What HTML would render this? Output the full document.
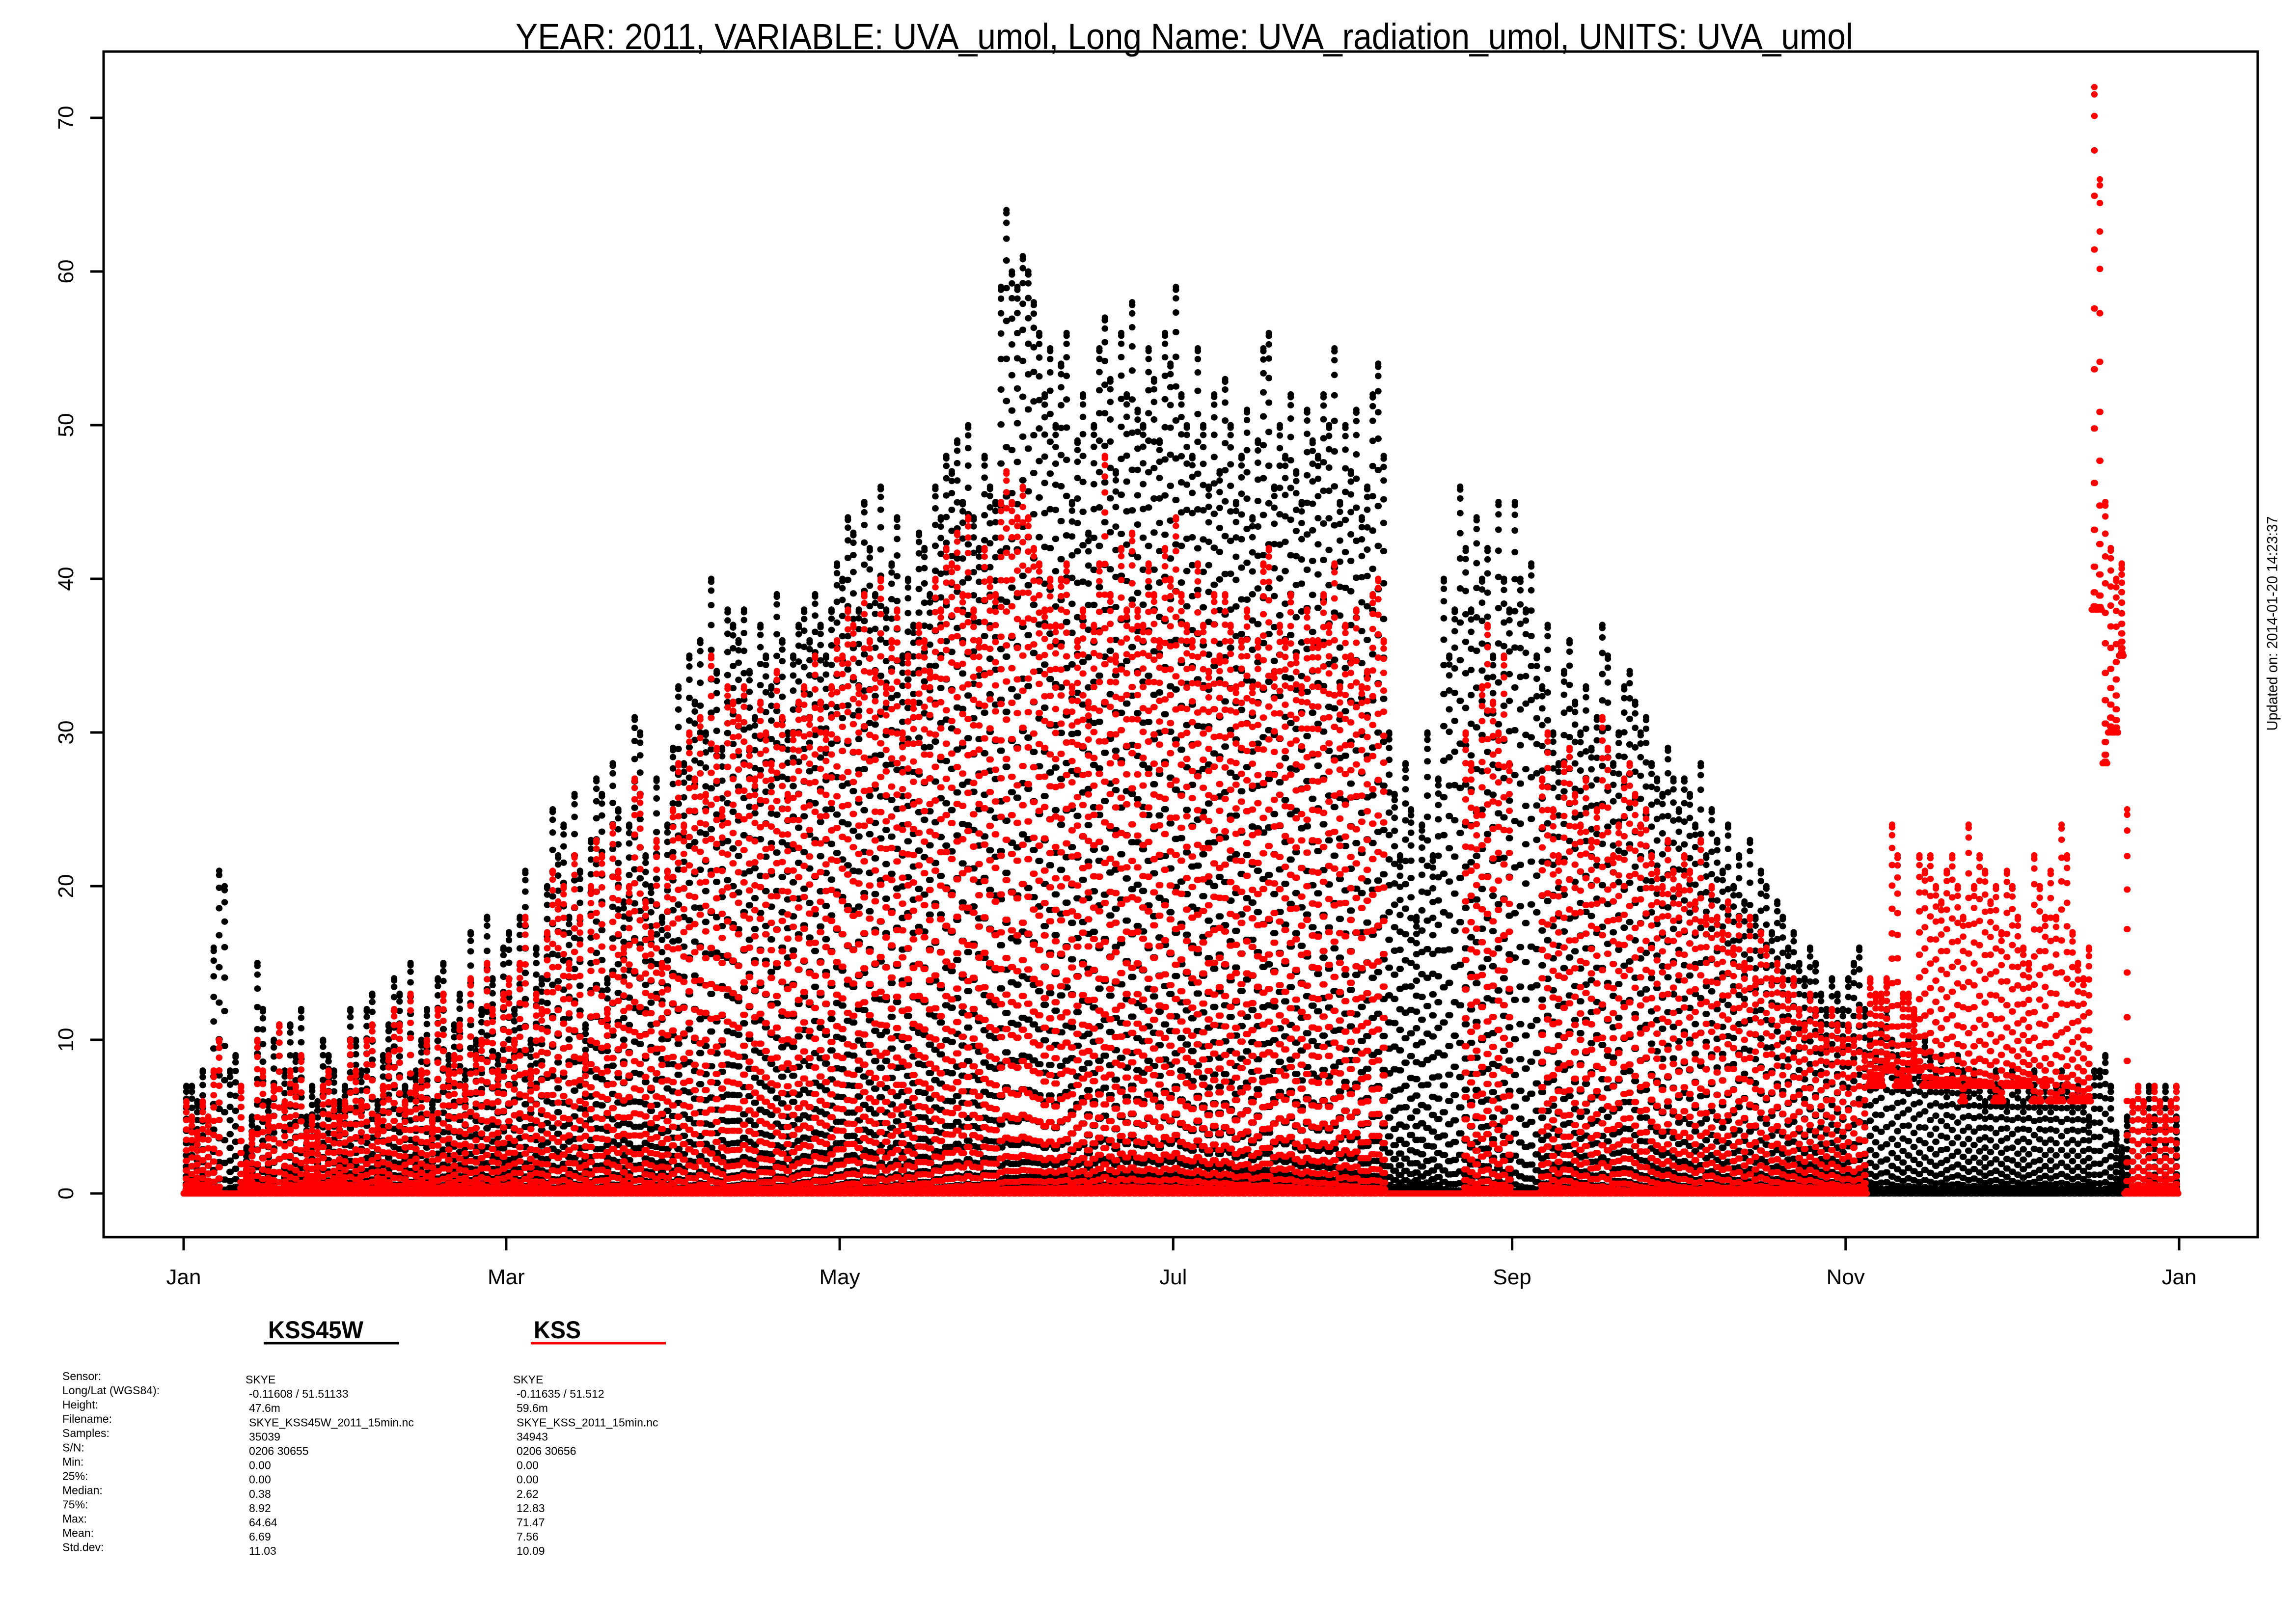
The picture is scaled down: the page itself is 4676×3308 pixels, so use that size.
<!DOCTYPE html>
<html><head><meta charset="utf-8">
<style>
html,body{margin:0;padding:0;background:#fff;}
svg{display:block;font-family:"Liberation Sans",Arial,sans-serif;}
</style></head>
<body>
<svg id="chart" width="4676" height="3308" viewBox="0 0 4676 3308" xmlns="http://www.w3.org/2000/svg">
<rect width="4676" height="3308" fill="#fff"/>
<text x="2412" y="100" font-size="74" text-anchor="middle" textLength="2724" lengthAdjust="spacingAndGlyphs">YEAR: 2011, VARIABLE: UVA_umol, Long Name: UVA_radiation_umol, UNITS: UVA_umol</text>
<g id="marks"></g>
<rect x="211" y="105" width="4387" height="2415" fill="none" stroke="#000" stroke-width="5"/>
<g id="axes"></g>
<text transform="translate(4638,1270) rotate(-90)" font-size="31" text-anchor="middle" textLength="437" lengthAdjust="spacingAndGlyphs">Updated on: 2014-01-20 14:23:37</text>
<g>
<text x="546" y="2726" font-size="50" font-weight="bold" textLength="194" lengthAdjust="spacingAndGlyphs">KSS45W</text>
<line x1="537" y1="2736" x2="813" y2="2736" stroke="#000" stroke-width="5"/>
<text x="1087" y="2726" font-size="50" font-weight="bold" textLength="96" lengthAdjust="spacingAndGlyphs">KSS</text>
<line x1="1081" y1="2736" x2="1356" y2="2736" stroke="#f00" stroke-width="5"/>
</g>
<g id="table" font-size="23"></g>
</svg>
<script>
// ---- data ----
const xTickLabels = ["Jan","Mar","May","Jul","Sep","Nov","Jan"];
const xTickDays = [0,59,120,181,243,304,365];
const yTicks = [0,10,20,30,40,50,60,70];
// daily max (umol) for KSS45W (black)
const blackMax = [
7,7,6,8,5,16,21,20,8,9,7,3,5,15,12,6,10,11,8,11,9,12,5,7,6,10,9,8,6,7,12,
10,8,12,13,6,9,11,14,13,7,15,8,10,12,6,14,15,9,11,13,8,17,10,12,18,14,9,16,
17,12,18,21,10,16,14,20,25,22,24,18,26,21,11,23,27,26,14,28,25,19,24,31,30,22,20,27,18,24,29,
33,28,35,32,36,30,40,34,29,38,37,36,38,34,31,37,35,33,39,36,30,35,37,38,36,39,37,35,38,41,
40,44,43,38,45,42,39,46,38,41,44,35,40,37,43,42,39,46,44,48,47,49,45,50,44,42,48,46,45,59,64,
60,59,61,60,58,56,52,55,50,54,56,45,49,52,43,50,55,57,53,47,56,52,58,51,50,55,53,49,56,54,
59,52,50,48,55,50,46,52,47,53,50,45,48,51,44,49,55,56,46,50,48,52,47,45,51,49,48,52,50,55,45,
50,47,51,44,46,52,54,48,30,26,22,28,25,18,24,30,22,27,40,35,38,46,42,38,44,40,42,35,45,40,38,
45,40,38,41,35,33,37,30,28,34,36,32,30,33,29,31,37,35,28,30,33,34,32,30,31,28,27,26,29,27,
25,27,26,24,28,22,25,23,21,24,20,22,19,23,18,21,20,17,19,18,16,17,15,14,16,15,13,12,14,13,12,
14,15,16,12,10,9,11,12,10,9,8,10,9,8,10,9,8,9,7,8,9,8,7,8,7,6,7,8,7,6,
8,7,6,7,8,6,7,6,7,8,7,6,7,6,5,8,8,9,7,4,3,5,6,7,6,7,5,6,7,6,5];
// daily max for KSS (red)
const redMax = [
6,5,4,6,5,8,10,0,0,0,7,2,4,10,8,5,7,11,6,8,7,9,4,5,4,7,8,6,5,6,10,
8,6,10,11,5,7,9,12,11,6,13,7,8,10,5,12,13,8,9,11,7,14,9,10,15,12,8,13,
14,10,15,18,8,13,12,17,21,19,20,15,22,18,9,20,23,22,12,24,21,16,20,27,26,19,17,23,15,21,25,
28,24,30,27,31,26,35,29,25,33,32,31,33,29,27,32,30,28,34,31,26,30,32,33,31,35,32,30,33,36,
35,38,37,33,39,36,34,40,33,36,38,30,35,32,37,36,34,40,38,42,41,43,39,44,38,36,42,40,39,45,47,
45,44,46,44,42,41,38,40,37,40,41,33,36,38,32,37,41,48,39,35,42,38,43,38,37,41,39,36,42,40,
44,39,37,36,41,37,34,39,35,39,37,33,36,38,33,36,41,42,34,37,36,39,35,33,38,36,36,39,37,41,33,
37,35,38,33,34,39,40,36,0,0,0,0,0,0,0,0,0,0,0,0,0,0,30,28,25,33,37,32,30,35,28,
0,0,0,0,0,27,30,25,22,28,29,26,24,27,23,25,31,29,22,24,27,28,26,24,25,22,21,20,23,21,
20,22,21,19,23,18,20,18,17,19,16,18,15,18,14,17,16,14,15,14,13,14,12,11,13,12,11,10,12,11,10,
11,10,12,9,14,13,13,14,24,22,13,13,12,22,21,22,20,19,21,22,20,18,24,20,22,21,19,20,17,21,
20,18,16,15,22,20,18,21,18,24,22,17,15,14,16,72,66,45,42,40,41,25,6,7,6,5,7,6,5,6,7];
// red baseline offset (Nov-Dec)
const redBaseDays = [308,309,310,311,312,313,314,315,316,317,318,319,320,321,322,323,324,325,326,327,328,329,330,331,332,333,334,335,336,337,338,339,340,341,342,343,344,345,346,347,348,349,350,351,352,353,354];
const redBaseVals = [7,7,7,8,8,7,7,7,8,8,7,7,7,7,7,7,7,6,7,7,7,7,7,6,6,7,7,7,7,7,6,6,7,6,6,6,7,6,6,6,6,38,38,28,30,30,35];
const blackColor = "#000", redColor = "#f00";

// ---- scales ----
const X0 = 374, X1 = 4438, Y0 = 2431, Y70 = 240;
function xs(day){ return X0 + (X1 - X0) * day / 365; }
function ys(v){ return Y0 + (Y70 - Y0) * v / 70; }

const NS = "http://www.w3.org/2000/svg";
function el(tag, attrs, parent){
  const e = document.createElementNS(NS, tag);
  for (const k in attrs) e.setAttribute(k, attrs[k]);
  parent.appendChild(e); return e;
}

const axes = document.getElementById('axes');
xTickDays.forEach((d, i) => {
  const ln = el('line', {x1: xs(d), x2: xs(d), y1: 2520, y2: 2547, stroke: '#000', 'stroke-width': 5}, axes);
  
  
  const t = el('text', {x: xs(d), y: 2616, 'font-size': 44, 'text-anchor': 'middle'}, axes);
  t.textContent = xTickLabels[i];
  
  
});
yTicks.forEach(v => {
  const ln = el('line', {x1: 184, x2: 211, y1: ys(v), y2: ys(v), stroke: '#000', 'stroke-width': 5}, axes);
  
  
  const t = el('text', {transform: `translate(149,${ys(v)}) rotate(-90)`, 'font-size': 44, 'text-anchor': 'middle'}, axes);
  t.textContent = String(v);
  
  
});

function redBase(d){ const i = redBaseDays.indexOf(d); return i < 0 ? 0 : redBaseVals[i]; }
function buildSeries(maxArr, baseFn){
  let s = '';
  for (let d = 0; d < maxArr.length; d++){
    const L = (12 + 4.3 * Math.sin(2 * Math.PI * (d - 80) / 365)) * 0.9;
    const rise = 12 - L / 2;
    const base = baseFn ? baseFn(d) : 0;
    const amp = Math.max(0, maxArr[d] - base);
    let lastZeroX = -99;
    for (let k = 0; k < 96; k++){
      const t = k / 4;
      let v = base;
      if (t > rise && t < rise + L) v = base + amp * Math.pow(Math.sin(Math.PI * (t - rise) / L), 2.2);
      const cx = xs(d + k / 96);
      if (v === base && cx - lastZeroX < 2) continue;
      if (v === base) lastZeroX = cx;
      s += `<circle cx="${cx.toFixed(1)}" cy="${ys(v).toFixed(1)}" r="6.5"/>`;
    }
  }
  return s;
}
const marks = document.getElementById('marks');
const gB = el('g', {fill: blackColor}, marks);


gB.innerHTML = buildSeries(blackMax, null);
const gR = el('g', {fill: redColor}, marks);


gR.innerHTML = buildSeries(redMax, redBase);

const rowLabels = ["Sensor:","Long/Lat (WGS84):","Height:","Filename:","Samples:","S/N:","Min:","25%:","Median:","75%:","Max:","Mean:","Std.dev:"];
const colA = ["SKYE","-0.11608 / 51.51133","47.6m","SKYE_KSS45W_2011_15min.nc","35039","0206 30655","0.00","0.00","0.38","8.92","64.64","6.69","11.03"];
const colB = ["SKYE","-0.11635 / 51.512","59.6m","SKYE_KSS_2011_15min.nc","34943","0206 30656","0.00","0.00","2.62","12.83","71.47","7.56","10.09"];
const tbl = document.getElementById('table');
rowLabels.forEach((lab, i) => {
  const t = el('text', {x: 127, y: 2811 + i * 29.05}, tbl);
  t.textContent = lab;
  
  
  const a = el('text', {x: i === 0 ? 500 : 507, y: 2818 + i * 29.1}, tbl);
  a.textContent = colA[i];
  
  
  const b = el('text', {x: i === 0 ? 1045 : 1052, y: 2818 + i * 29.1}, tbl);
  b.textContent = colB[i];
  
  
});
</script>
</body></html>
